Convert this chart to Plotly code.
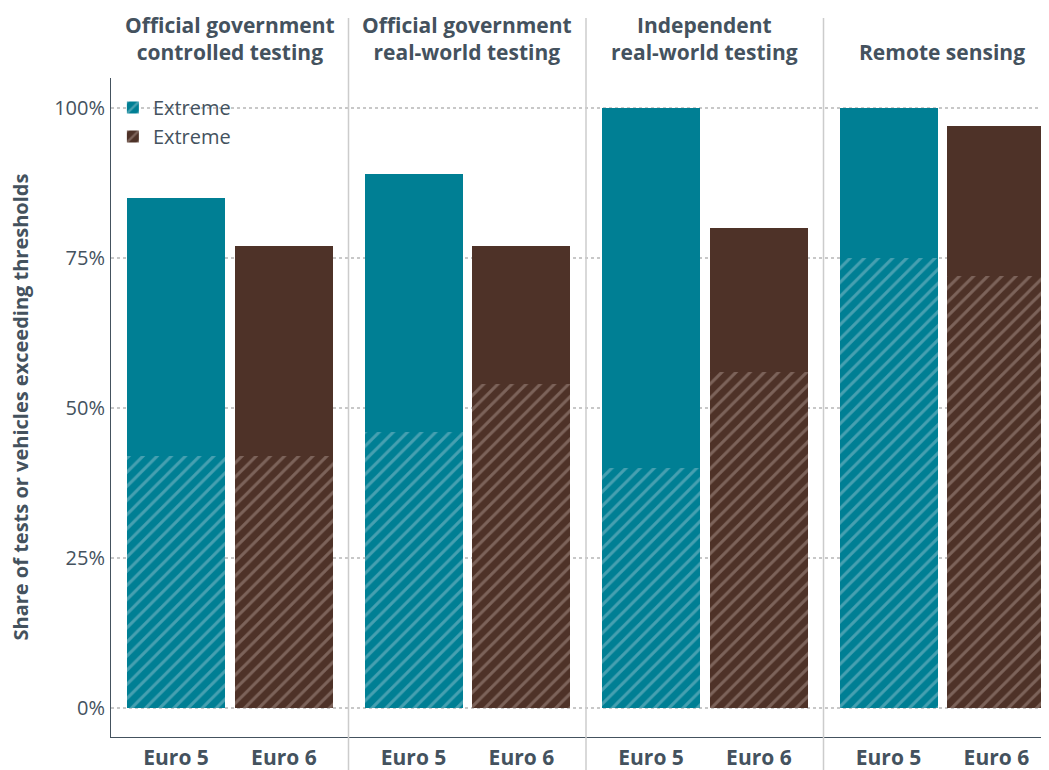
import plotly.graph_objects as go

groups = ["Official government<br>controlled testing", "Official government<br>real-world testing",
          "Independent<br>real-world testing", "Remote sensing"]
standards = ["Euro 5", "Euro 6"]
euro5_total = [85, 89, 100, 100]
euro5_extreme = [42, 46, 40, 75]
euro6_total = [77, 77, 80, 97]
euro6_extreme = [42, 54, 56, 72]
y_ticks = [0, 25, 50, 75, 100]
y_ticktext = ["0%", "25%", "50%", "75%", "100%"]

TEAL = "#007F94"
BROWN = "#4E3228"
TEXT = "#44525E"
FONT = "Open Sans"

off5, off6, bw = 0.274, 0.728, 0.413
x5 = [i + off5 for i in range(len(groups))]
x6 = [i + off6 for i in range(len(groups))]

fig = go.Figure()
fig.add_bar(x=x5, y=euro5_extreme, width=bw, name="Extreme",
            marker=dict(color=TEAL, line_width=0,
                        pattern=dict(shape="/", fgcolor="#8CC2CE", bgcolor=TEAL, size=10, solidity=0.3)))
fig.add_bar(x=x5, y=[t - e for t, e in zip(euro5_total, euro5_extreme)], width=bw, showlegend=False,
            marker=dict(color=TEAL, line_width=0))
fig.add_bar(x=x6, y=euro6_extreme, width=bw, name="Extreme",
            marker=dict(color=BROWN, line_width=0,
                        pattern=dict(shape="/", fgcolor="#AA948C", bgcolor=BROWN, size=10, solidity=0.3)))
fig.add_bar(x=x6, y=[t - e for t, e in zip(euro6_total, euro6_extreme)], width=bw, showlegend=False,
            marker=dict(color=BROWN, line_width=0))

# page has an 8px body offset; lay out in figure coordinates
OFF = 8
W, H = 1049 - OFF, 770 - OFF
L, T = 111 - OFF, 78 - OFF
PB = 737 - OFF            # plot bottom in figure px
B = H - PB
R = 0
pw = W - L - R
ph = PB - T
Y0 = 708 - OFF            # y of 0%
PX = 6.0                  # px per percent

fig.update_layout(
    width=W, height=H, barmode="stack", plot_bgcolor="white", paper_bgcolor="white",
    margin=dict(l=L, r=R, t=T, b=B, autoexpand=False),
    font=dict(family=FONT, color=TEXT),
    legend=dict(x=0.002, y=(PB - 80) / ph, xanchor="left", yanchor="top", traceorder="normal",
                font=dict(size=20, color=TEXT), bgcolor="rgba(0,0,0,0)", itemwidth=30,
                tracegroupgap=0),
    xaxis=dict(range=[0, pw / 237.5], tickvals=x5 + x6, ticktext=[standards[0]] * 4 + [standards[1]] * 4,
               tickfont=dict(size=21, color=TEXT, family=FONT, weight="bold"), showgrid=False,
               showline=True, linecolor=TEXT, linewidth=1, ticks="", zeroline=False,
               ticklabelstandoff=2),
    yaxis=dict(range=[-(PB - Y0) / PX, (Y0 - T) / PX], tickvals=y_ticks, ticktext=y_ticktext,
               tickfont=dict(size=20, color=TEXT), showgrid=True, gridcolor="#C8C8C8", griddash="dot",
               gridwidth=1.5, showline=True, linecolor=TEXT, linewidth=1, ticks="", zeroline=False,
               ticklabelstandoff=1),
)

for i in range(1, len(groups)):
    fig.add_shape(type="line", xref="x", yref="paper", x0=i, x1=i, y0=(PB - H - 5) / ph, y1=(PB - 10) / ph,
                  line=dict(color="#CCCCCC", width=1.5), layer="above")

for i, g in enumerate(groups):
    fig.add_annotation(x=i + 0.5, xref="x", y=(PB - 60) / ph, yref="paper", text=g, showarrow=False,
                       xanchor="center", yanchor="bottom", align="center",
                       font=dict(size=21, color=TEXT, family=FONT, weight="bold"))

fig.add_annotation(x=(12 - L) / pw, xref="paper", y=0.5, yref="paper", textangle=-90,
                   text="Share of tests or vehicles exceeding thresholds", showarrow=False,
                   xanchor="center", yanchor="middle",
                   font=dict(size=20, color=TEXT, family=FONT, weight="bold"))

fig.write_html("out.html")
